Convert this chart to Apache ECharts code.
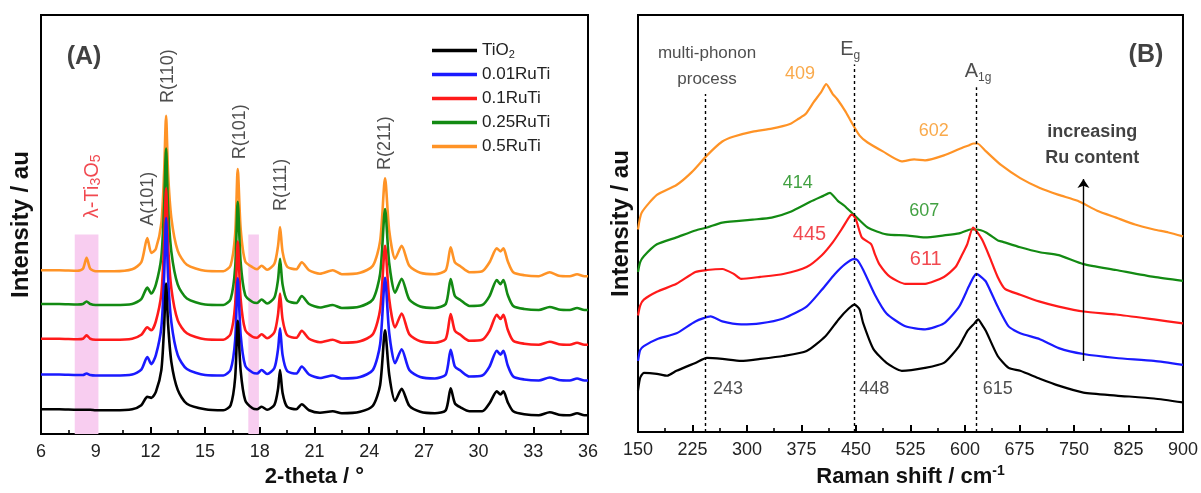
<!DOCTYPE html>
<html>
<head>
<meta charset="utf-8">
<script src="https://cdn.jsdelivr.net/npm/echarts@6/dist/echarts.min.js"></script>
<style>
  html, body { margin: 0; padding: 0; background: #fff; }
  #chart { width: 1201px; height: 493px; }
</style>
</head>
<body>
<div id="chart"></div>
<script>
const FONT = '"Liberation Sans", Arial, Helvetica, sans-serif';

// sample names and line colours (legend order)
const names = ['TiO2', '0.01RuTi', '0.1RuTi', '0.25RuTi', '0.5RuTi'];
const colors = ['#000000', '#1a1aff', '#ff1a1a', '#138a13', '#ff9326'];

// ---- (A) XRD, 2-theta in degrees, intensity offset per sample (au)
const xrdTheta = [6, 7, 8, 8.3, 8.5, 8.7, 9, 10, 11, 11.5, 11.83, 12.05, 12.3, 12.6, 12.75, 12.86, 12.97, 13.15, 13.5, 14,
  15, 16, 16.4, 16.65, 16.79, 16.95, 17.2, 17.6, 17.85, 18.1, 18.4, 18.8, 19, 19.11, 19.25, 19.5, 20, 20.3, 20.7, 21.3,
  22, 22.5, 23.5, 24.2, 24.6, 24.87, 25.1, 25.42, 25.78, 26.2, 26.8, 27.6, 28.2, 28.47, 28.7, 29, 29.5, 30.2, 30.6, 31,
  31.2, 31.36, 31.6, 31.9, 32.5, 33.3, 33.9, 34.4, 35, 35.4, 35.8, 36];
const xrdTiO2 = [25, 25, 24.5, 24.5, 24.5, 24.5, 24, 24, 25, 29, 37.5, 36.5, 42.5, 64.5, 107.5, 151.5, 110.5, 72.5, 44.5, 30.5,
  25, 24, 29, 57, 114, 64, 34, 26, 25, 27.5, 24.5, 29.5, 45.5, 64.5, 41.5, 27.5, 25, 30, 24, 21.5,
  23, 21, 22.5, 28.5, 49.5, 104.5, 59.5, 33.5, 45.5, 28.5, 22.5, 21, 24, 46, 31, 27, 23, 23, 31, 43,
  40, 43, 32, 23, 20, 19, 22, 19.5, 19, 21, 19, 19];
const xrd001 = [60, 60, 59.5, 59.5, 61, 59.5, 59, 59, 60, 65, 77.5, 70.5, 79.5, 107.5, 157.5, 217.5, 157.5, 112.5, 79.5, 65.5,
  59.5, 59, 65, 95, 157, 100, 69, 62, 61, 64.5, 60.5, 66.5, 85.5, 106.5, 79.5, 63.5, 61, 68, 60, 56.5,
  59, 56, 57.5, 64.5, 90.5, 157.5, 101.5, 71.5, 85.5, 64.5, 57.5, 56, 60, 85, 68, 64, 58, 59, 68, 84,
  80, 84, 69, 58, 55, 54, 57, 54.5, 54, 56, 54, 54];
const xrd01 = [96, 96, 95.5, 96, 99.5, 96, 95, 95, 96, 100, 107.5, 104.5, 113.5, 141.5, 190.5, 247.5, 190.5, 146.5, 114.5, 101.5,
  95.5, 95, 101, 131, 194, 136, 105, 98, 97, 100.5, 96.5, 102.5, 120.5, 141.5, 115.5, 99.5, 97, 104, 96, 92.5,
  95, 92, 93.5, 100.5, 125.5, 189.5, 135.5, 107.5, 121.5, 100.5, 93.5, 92, 96, 121, 104, 100, 94, 95, 104, 120,
  116, 120, 105, 94, 91, 90, 93, 90.5, 90, 92, 90, 90];
const xrd025 = [131, 131, 130.5, 131, 133.5, 131, 130, 130, 131, 136, 147.5, 141.5, 150.5, 178.5, 228.5, 287.5, 228.5, 183.5, 150.5, 136.5,
  130.5, 130, 136, 168, 234, 173, 140, 133, 132, 135.5, 131.5, 137.5, 155.5, 176.5, 150.5, 134.5, 132, 139, 131, 127.5,
  130, 127, 128.5, 135.5, 161.5, 226.5, 171.5, 142.5, 156.5, 135.5, 128.5, 127, 131, 156, 139, 135, 129, 130, 139, 155,
  151, 155, 140, 129, 126, 125, 128, 125.5, 125, 127, 125, 125];
const xrd05 = [165, 165, 164.5, 166.5, 177.5, 166.5, 164, 164, 166, 173, 197.5, 182.5, 186.5, 212.5, 262.5, 320.5, 262.5, 217.5, 184.5, 170.5,
  164.5, 164, 170, 202, 267, 207, 174, 168, 166, 169.5, 165.5, 171.5, 189.5, 208.5, 183.5, 168.5, 166, 173, 165, 161.5,
  165, 161, 162.5, 169.5, 194.5, 257.5, 204.5, 176.5, 189.5, 169.5, 162.5, 161, 165, 188, 173, 169, 163, 164, 173, 187,
  184, 187, 174, 163, 160, 159, 163, 159.5, 159, 161, 159, 159];
const xrdSets = [xrdTiO2, xrd001, xrd01, xrd025, xrd05];
// shaded lambda-Ti3O5 ranges [from, to, top]
const pinkBands = [[7.85, 9.15, 201], [17.37, 17.95, 201]];

// ---- (B) Raman, [shift cm-1, intensity]
const ramanTiO2 = [[150, 42], [153, 55], [158, 60], [176, 59], [190, 57], [203, 62], [229, 70], [245, 75], [266, 74], [292, 72],
  [318, 74], [350, 77], [382, 82], [408, 97], [426, 114], [440, 125], [448, 129], [455, 124], [460, 110], [474, 84],
  [492, 70], [513, 62], [545, 65], [571, 70], [592, 87], [603, 102], [613, 110], [618, 114], [624, 108], [629, 102],
  [645, 77], [660, 65], [676, 62], [703, 54], [729, 47], [763, 40], [808, 37], [860, 34], [900, 30]];
const raman001 = [[150, 72], [153, 83], [158, 87], [176, 94], [203, 100], [229, 112], [250, 117], [266, 112], [292, 109], [318, 110],
  [350, 115], [382, 127], [403, 144], [421, 160], [435, 170], [447, 175], [452, 174], [460, 164], [476, 139], [492, 120],
  [518, 107], [545, 104], [571, 110], [592, 127], [605, 147], [612, 157], [616, 160], [622, 157], [629, 152], [645, 127],
  [660, 107], [676, 100], [703, 94], [729, 85], [763, 79], [808, 75], [860, 72], [900, 68]];
const raman01 = [[150, 118], [153, 128], [158, 134], [176, 142], [203, 150], [229, 162], [245, 164], [266, 165], [282, 160], [292, 155],
  [318, 157], [350, 160], [382, 167], [403, 179], [418, 192], [430, 205], [442, 219], [445, 220], [450, 215], [458, 197],
  [471, 190], [476, 180], [482, 170], [497, 157], [518, 150], [545, 150], [571, 157], [587, 167], [595, 178], [603, 190],
  [611, 207], [616, 203], [624, 194], [634, 177], [645, 157], [655, 145], [676, 139], [703, 132], [729, 127], [763, 122],
  [808, 119], [860, 114], [900, 110]];
const raman025 = [[150, 162], [153, 172], [158, 178], [176, 190], [203, 197], [229, 204], [245, 207], [266, 212], [308, 215], [334, 217],
  [360, 223], [387, 233], [405, 239], [414, 242], [425, 234], [434, 229], [447, 220], [466, 207], [492, 200], [518, 199],
  [545, 197], [571, 199], [592, 201], [603, 204], [607, 205], [616, 205], [629, 202], [645, 194], [650, 193], [676, 187],
  [703, 182], [729, 179], [763, 170], [808, 164], [860, 157], [900, 153]];
const raman05 = [[150, 205], [155, 222], [176, 240], [203, 250], [224, 263], [245, 280], [266, 294], [282, 299], [308, 304], [334, 307],
  [360, 312], [371, 317], [381, 322], [392, 334], [402, 344], [409, 352], [418, 342], [424, 337], [435, 325], [445, 312],
  [455, 300], [466, 293], [487, 284], [513, 274], [530, 276], [545, 275], [571, 280], [597, 288], [605, 290], [612, 292],
  [617, 292], [629, 284], [650, 270], [676, 257], [703, 247], [729, 240], [755, 234], [782, 224], [808, 217], [834, 210],
  [860, 205], [880, 202], [900, 198]];
const ramanSets = [ramanTiO2, raman001, raman01, raman025, raman05];
// dashed guide lines [shift, top]
const guideLines = [[243, 342], [448, 372], [615, 349]];

// ---- text annotations [x, y, rich text, rotation]
const notesA = [
  [8.85, 249.5, '{r|λ-Ti}{rs|3}{r|O}{rs|5}', 90],
  [11.88, 237, 'A(101)', 90],
  [12.97, 360.5, 'R(110)', 90],
  [16.91, 304.5, 'R(101)', 90],
  [19.15, 251, 'R(111)', 90],
  [24.87, 293, 'R(211)', 90],
  [8.36, 379.5, '{big|(A)}', 0]
];
const notesB = [
  [245, 383, '{s|multi-phonon}', 0],
  [245, 357, '{s|process}', 0],
  [442, 387, '{n|E}{ns|g}', 0],
  [618, 365, '{n|A}{ns|1g}', 0],
  [849, 381, '{big|(B)}', 0],
  [373, 362, '{o|409}', 0],
  [557, 305, '{o|602}', 0],
  [370, 252, '{g|414}', 0],
  [544, 224, '{g|607}', 0],
  [386, 200, '{r|445}', 0],
  [546, 175, '{r|611}', 0],
  [274, 44, '243', 0],
  [475, 44, '448', 0],
  [645, 44, '615', 0],
  [775, 304, '{b|increasing}', 0],
  [775, 277, '{b|Ru content}', 0]
];

const rich = {
  r: { color: '#ee1c24', fontSize: 20, fontFamily: FONT },
  rs: { color: '#ee1c24', fontSize: 14, fontFamily: FONT, verticalAlign: 'bottom' },
  o: { color: '#f7931e', fontSize: 18, fontFamily: FONT },
  g: { color: '#138a13', fontSize: 18, fontFamily: FONT },
  s: { color: '#222', fontSize: 17, fontFamily: FONT },
  n: { color: '#222', fontSize: 20, fontFamily: FONT, lineHeight: 24 },
  ns: { color: '#222', fontSize: 12, fontFamily: FONT, verticalAlign: 'bottom' },
  b: { color: '#111', fontSize: 18, fontFamily: FONT, fontWeight: 'bold' },
  big: { color: '#111', fontSize: 25, fontFamily: FONT, fontWeight: 'bold' }
};

function noteSeries(notes, idx) {
  return {
    type: 'scatter', xAxisIndex: idx, yAxisIndex: idx, symbolSize: 0, silent: true, z: 6,
    label: { show: true, position: 'inside', color: '#222', fontSize: 18, fontFamily: FONT, rich: rich },
    data: notes.map(n => ({ value: [n[0], n[1]], label: { formatter: n[2], rotate: n[3] } }))
  };
}

function xAxisOf(idx, min, max, interval, name, nameRich) {
  return {
    type: 'value', gridIndex: idx, min: min, max: max, interval: interval,
    name: name, nameLocation: 'middle', nameGap: 31,
    nameTextStyle: Object.assign({ fontSize: 22, fontWeight: 'bold', color: '#111', fontFamily: FONT }, nameRich ? { rich: nameRich } : {}),
    axisLine: { onZero: false, lineStyle: { color: '#000', width: 2 } },
    axisTick: { inside: true, length: 7, lineStyle: { color: '#000', width: 2 } },
    axisLabel: { fontSize: 18, color: '#222', margin: 9, fontFamily: FONT },
    splitLine: { show: false }
  };
}

// second axis on the same grid, only for the short inner half-step ticks
function minorAxisOf(idx, min, max, interval) {
  return {
    type: 'value', gridIndex: idx, min: min, max: max, interval: interval, position: 'bottom',
    axisLine: { show: false, onZero: false },
    axisTick: { show: true, inside: true, length: 4, lineStyle: { color: '#000', width: 1.6 } },
    axisLabel: { show: false }, splitLine: { show: false }
  };
}

function yAxisOf(idx, gap) {
  return {
    type: 'value', gridIndex: idx, min: 0, max: 422,
    name: 'Intensity / au', nameLocation: 'middle', nameGap: gap,
    nameTextStyle: { fontSize: 24, fontWeight: 'bold', color: '#111', fontFamily: FONT },
    axisLine: { show: true, lineStyle: { color: '#000', width: 2 } },
    axisTick: { show: false }, axisLabel: { show: false }, splitLine: { show: false }
  };
}

const series = [];
// pink shaded ranges under the XRD traces
series.push({
  type: 'line', xAxisIndex: 0, yAxisIndex: 0, z: 1, silent: true, showSymbol: false,
  data: [[6, 0]], lineStyle: { opacity: 0 },
  markArea: {
    silent: true, itemStyle: { color: '#f8cdf0' },
    data: pinkBands.map(b => [{ coord: [b[0], 0] }, { coord: [b[1], b[2]] }])
  }
});
// draw 0.5RuTi first so TiO2 ends on top
for (let i = 4; i >= 0; i--) {
  series.push({
    name: names[i], type: 'line', xAxisIndex: 0, yAxisIndex: 0, z: 2,
    showSymbol: false, smooth: 0.25, color: colors[i],
    lineStyle: { width: 2.6, color: colors[i] },
    data: xrdTheta.map((t, k) => [t, xrdSets[i][k]])
  });
}
for (let i = 4; i >= 0; i--) {
  const s = {
    name: names[i], type: 'line', xAxisIndex: 1, yAxisIndex: 1, z: 2,
    showSymbol: false, smooth: 0.2, color: colors[i],
    lineStyle: { width: 2.2, color: colors[i] },
    data: ramanSets[i]
  };
  if (i === 0) {
    s.markLine = {
      silent: true, symbol: ['none', 'none'], label: { show: false },
      lineStyle: { color: '#000', width: 1.4, type: [3, 3] },
      data: guideLines.map(g => [{ coord: [g[0], 0] }, { coord: [g[0], g[1]] }])
    };
  }
  if (i === 1) {
    s.markLine = {
      silent: true, symbol: ['none', 'arrow'], symbolSize: 9, label: { show: false },
      lineStyle: { color: '#000', width: 1.4, type: 'solid' },
      data: [[{ coord: [763, 72] }, { coord: [763, 256] }]]
    };
  }
  series.push(s);
}
series.push(noteSeries(notesA, 0));
series.push(noteSeries(notesB, 1));

const chart = echarts.init(document.getElementById('chart'));
chart.setOption({
  animation: false,
  backgroundColor: '#fff',
  textStyle: { fontFamily: FONT },
  grid: [
    { left: 41, top: 15, width: 547, height: 422, show: true, borderColor: '#000', borderWidth: 2, backgroundColor: 'transparent' },
    { left: 638, top: 15, width: 545, height: 422, show: true, borderColor: '#000', borderWidth: 2, backgroundColor: 'transparent' }
  ],
  legend: {
    orient: 'vertical', left: 427, top: 36, icon: 'rect', itemWidth: 45, itemHeight: 3.5, itemGap: 5,
    data: names,
    textStyle: {
      fontSize: 17, color: '#222', fontFamily: FONT, lineHeight: 19,
      rich: {
        t: { fontSize: 17, fontFamily: FONT, color: '#222', lineHeight: 19 },
        ts: { fontSize: 11, fontFamily: FONT, color: '#222', verticalAlign: 'bottom' }
      }
    },
    formatter: n => n === 'TiO2' ? '{t|TiO}{ts|2}' : n
  },
  xAxis: [
    xAxisOf(0, 6, 36, 3, '2-theta / °'),
    xAxisOf(1, 150, 900, 75, '{m|Raman shift / cm}{sup|-1}', {
      m: { fontSize: 22, fontWeight: 'bold', color: '#111', fontFamily: FONT, lineHeight: 26 },
      sup: { fontSize: 14, fontWeight: 'bold', color: '#111', fontFamily: FONT, verticalAlign: 'top' }
    }),
    minorAxisOf(0, 6, 36, 1.5),
    minorAxisOf(1, 150, 900, 37.5)
  ],
  yAxis: [yAxisOf(0, 8), yAxisOf(1, 5)],
  series: series
});
</script>
</body>
</html>
